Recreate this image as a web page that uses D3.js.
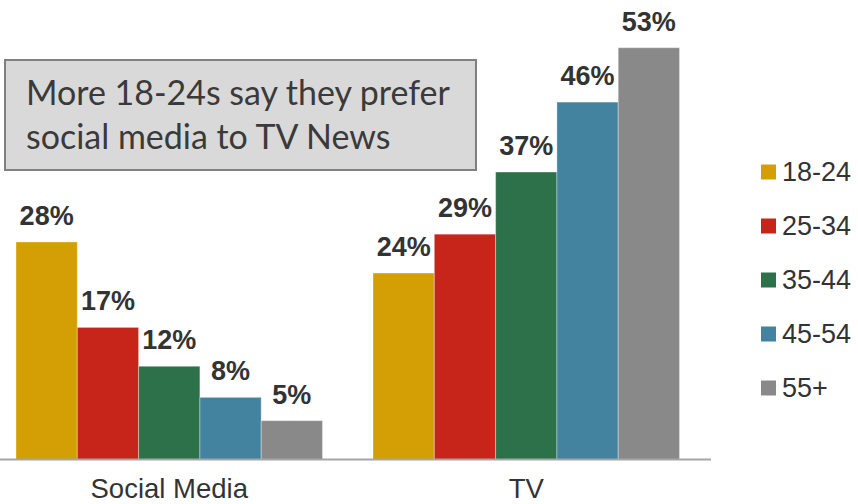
<!DOCTYPE html>
<html>
<head>
<meta charset="utf-8">
<script src="https://cdn.jsdelivr.net/npm/d3@7"></script>
<style>
  html, body { margin: 0; padding: 0; background: #fff; }
  svg { display: block; }
</style>
</head>
<body>
<svg id="chart" width="858" height="504"></svg>
<script>
// ---- data ----
const categories = ["Social Media", "TV"];
const ageGroups = ["18-24", "25-34", "35-44", "45-54", "55+"];
const socialMediaValues = [28, 17, 12, 8, 5];
const tvValues = [24, 29, 37, 46, 53];
const groupColors = ["#D49F05", "#C8251A", "#2D714B", "#4383A0", "#898989"];
const titleLines = ["More 18-24s say they prefer", "social media to TV News"];

const seriesByCategory = {
  "Social Media": socialMediaValues,
  "TV": tvValues
};
const rows = [];
categories.forEach(c => {
  ageGroups.forEach((g, i) => rows.push({ category: c, group: g, value: seriesByCategory[c][i] }));
});

const svg = d3.select("#chart");

const baseY = 459.5;
const x0 = d3.scaleBand()
  .domain(categories)
  .range([0, 695.5])
  .paddingInner(0.1415)
  .paddingOuter(0.0448);
const x1 = d3.scaleBand()
  .domain(ageGroups)
  .range([0, x0.bandwidth()])
  .padding(0);
const maxVal = d3.max(rows, d => d.value);
const y = d3.scaleLinear()
  .domain([0, maxVal])
  .range([baseY, 47.7]);
const color = d3.scaleOrdinal().domain(ageGroups).range(groupColors);

// bars
const gBars = svg.append("g");
gBars.selectAll("rect")
  .data(rows)
  .join("rect")
  .attr("x", d => x0(d.category) + x1(d.group))
  .attr("y", d => y(d.value))
  .attr("width", x1.bandwidth())
  .attr("height", d => y(0) - y(d.value))
  .attr("fill", d => color(d.group))
  .attr("stroke", "rgba(255,255,255,0.35)")
  .attr("stroke-width", 1);

// value labels
svg.append("g").selectAll("text")
  .data(rows)
  .join("text")
  .attr("x", d => x0(d.category) + x1(d.group) + x1.bandwidth() / 2)
  .attr("y", d => y(d.value) - 17)
  .attr("text-anchor", "middle")
  .attr("font-family", "Liberation Sans, Arial, sans-serif")
  .attr("font-weight", "bold")
  .attr("font-size", 27)
  .attr("fill", "#333333")
  .text(d => d.value + "%");

// x axis
const xAxis = d3.axisBottom(x0).tickSize(0).tickPadding(0);
const gx = svg.append("g")
  .attr("transform", `translate(0,${baseY})`)
  .call(xAxis);
gx.select(".domain").remove();
gx.append("line")
  .attr("x1", 0).attr("x2", 711)
  .attr("y1", 0).attr("y2", 0)
  .attr("stroke", "#a6a6a6")
  .attr("stroke-width", 2);
gx.selectAll(".tick text")
  .attr("y", 38.5)
  .attr("dy", 0)
  .attr("font-family", "Liberation Sans, Arial, sans-serif")
  .attr("font-size", 27.5)
  .attr("fill", "#333333");

// legend
const legend = svg.append("g");
const legendItems = legend.selectAll("g")
  .data(ageGroups)
  .join("g")
  .attr("transform", (d, i) => `translate(761,${172 + i * 54})`);
legendItems.append("rect")
  .attr("x", 0).attr("y", -7.5)
  .attr("width", 15).attr("height", 15)
  .attr("fill", d => color(d));
legendItems.append("text")
  .attr("x", 21)
  .attr("y", 9)
  .attr("font-family", "Liberation Sans, Arial, sans-serif")
  .attr("font-size", 27)
  .attr("fill", "#333333")
  .text(d => d);

// title box
const box = svg.append("g");
box.append("rect")
  .attr("x", 5).attr("y", 60)
  .attr("width", 471).attr("height", 110)
  .attr("fill", "#d9d9d9")
  .attr("stroke", "#808080")
  .attr("stroke-width", 2);
const tText = box.selectAll("text")
  .data(titleLines)
  .join("text")
  .attr("x", 26)
  .attr("y", (d, i) => 105 + i * 44)
  .attr("font-family", "Lato, 'Open Sans', sans-serif")
  .attr("font-size", 34)
  .attr("fill", "#3a3a3a")
  .text(d => d);
// fit first line to the measured width of the reference text
const w = tText.nodes()[0].getComputedTextLength();
const fs = 34 * 424 / w;
tText.attr("font-size", fs);
</script>
</body>
</html>
